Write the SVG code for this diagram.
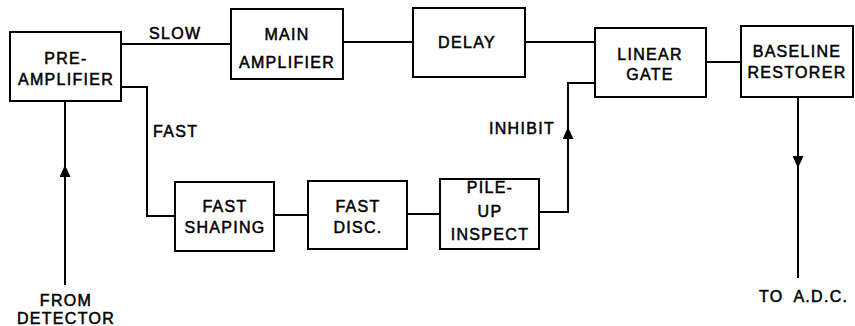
<svg xmlns="http://www.w3.org/2000/svg" width="855" height="326" viewBox="0 0 855 326">
<style>
.box{fill:#fff;stroke:#000;stroke-width:2}
.ln{fill:none;stroke:#000;stroke-width:2}
text{font-family:"Liberation Sans",Arial,sans-serif;font-size:16px;letter-spacing:1.3px;fill:#000;text-anchor:middle;stroke:#000;stroke-width:0.5}
.l{text-anchor:start}
</style>
<defs>
<marker id="ah" viewBox="0 0 12 11" refX="12" refY="5.5" markerWidth="12" markerHeight="11" markerUnits="userSpaceOnUse" orient="auto">
<path d="M0,0 L12,5.5 L0,11 z" fill="#000"/>
</marker>
</defs>
<rect width="855" height="326" fill="#fff"/>
<g id="connectors">
<line class="ln" x1="121" y1="44" x2="231" y2="44"/>
<line class="ln" x1="343" y1="42" x2="413" y2="42"/>
<line class="ln" x1="525" y1="42" x2="595" y2="42"/>
<line class="ln" x1="706" y1="62" x2="741" y2="62"/>
<polyline class="ln" points="121,87 147,87 147,216 175,216"/>
<line class="ln" x1="274" y1="215" x2="308" y2="215"/>
<line class="ln" x1="407" y1="214" x2="440" y2="214"/>
<polyline class="ln" points="539,212 568,212 568,83 595,83"/>
<line class="ln" x1="568" y1="140" x2="568" y2="127" marker-end="url(#ah)"/>
<line class="ln" x1="65" y1="285" x2="65" y2="165" marker-end="url(#ah)"/>
<line class="ln" x1="65" y1="101" x2="65" y2="170"/>
<line class="ln" x1="798" y1="97" x2="798" y2="168" marker-end="url(#ah)"/>
<line class="ln" x1="798" y1="160" x2="798" y2="278"/>
<text class="l" x="149" y="39">SLOW</text>
<text class="l" x="153" y="137">FAST</text>
<text x="522" y="134">INHIBIT</text>
<text x="66" y="306">FROM</text>
<text x="66" y="324">DETECTOR</text>
<text class="l" x="759" y="302">TO<tspan dx="5"> A.D.C.</tspan></text>
</g>
<g id="preamp">
<rect class="box" x="10" y="32" width="111" height="69"/>
<text x="66" y="64">PRE-</text>
<text x="66" y="85">AMPLIFIER</text>
</g>
<g id="mainamp">
<rect class="box" x="231" y="9" width="112" height="70"/>
<text x="287" y="40">MAIN</text>
<text x="287" y="68">AMPLIFIER</text>
</g>
<g id="delay">
<rect class="box" x="413" y="8" width="112" height="69"/>
<text x="467" y="48">DELAY</text>
</g>
<g id="lineargate">
<rect class="box" x="595" y="28" width="111" height="69"/>
<text x="650" y="60">LINEAR</text>
<text x="650" y="80">GATE</text>
</g>
<g id="baseline">
<rect class="box" x="741" y="26" width="112" height="71"/>
<text x="797" y="57">BASELINE</text>
<text x="797" y="78">RESTORER</text>
</g>
<g id="fastshaping">
<rect class="box" x="175" y="182" width="99" height="69"/>
<text x="225" y="212">FAST</text>
<text x="225" y="233">SHAPING</text>
</g>
<g id="fastdisc">
<rect class="box" x="308" y="181" width="99" height="68"/>
<text x="358" y="212">FAST</text>
<text x="358" y="233">DISC.</text>
</g>
<g id="pileup">
<rect class="box" x="440" y="179" width="99" height="70"/>
<text x="490" y="193">PILE-</text>
<text x="490" y="217">UP</text>
<text x="490" y="240">INSPECT</text>
</g>
</svg>
